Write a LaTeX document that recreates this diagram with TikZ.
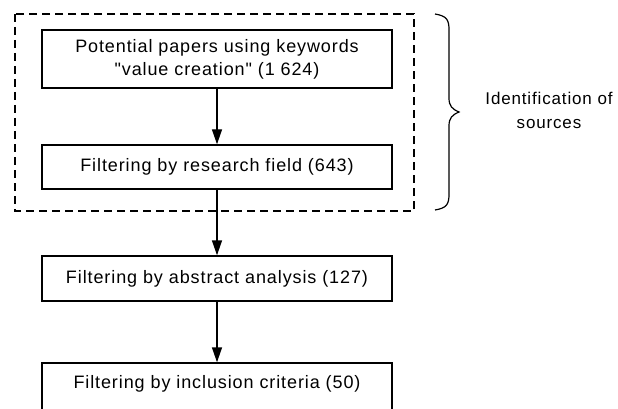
\documentclass[tikz,border=0pt]{standalone}
\usepackage{fontspec}
\newfontfamily\lib{Liberation Sans}[LetterSpace=5]
\usetikzlibrary{arrows.meta}
\begin{document}
\begin{tikzpicture}[x=1pt,y=-1pt,
  txt/.style={font=\lib\fontsize{18}{23}\selectfont},
  stepbox/.style={draw, txt, line width=1.4pt, minimum width=350pt, align=center, inner sep=0pt},
  flow/.style={line width=1.4pt, -{Triangle[width=10pt,length=15pt]}}]
\useasboundingbox (0,0) rectangle (618,409);
\clip (0,0) rectangle (618,409);
\node[stepbox, minimum height=58pt] (b1) at (217,59) {Potential papers using keywords\\ "value creation" (1 624)};
\node[stepbox, minimum height=44pt] (b2) at (217,167) {Filtering by research field (643)};
\node[stepbox, minimum height=45pt] (b3) at (217,278.5) {Filtering by abstract analysis (127)};
\node[stepbox, minimum height=70pt] (b4) at (217,398) {};
\node[txt] (t4) at (217,384) {Filtering by inclusion criteria (50)};
\draw[dashed, line width=1.4pt, dash pattern=on 8pt off 5pt] (15,14) rectangle (414,211);
\draw[flow] (b1) -- (b2);
\draw[flow] (b2) -- (b3);
\draw[flow] (b3) -- (b4);
\draw[line width=1.2pt] (435,14) .. controls (447,16) and (449,20) .. (449,30) -- (449,98) .. controls (449,106) and (452,109) .. (459,112) .. controls (452,115) and (449,118) .. (449,126) -- (449,194) .. controls (449,204) and (447,208) .. (435,210);
\node[align=center, font=\lib\fontsize{17}{24}\selectfont] (lab) at (549,110) {Identification of\\sources};
\end{tikzpicture}
\end{document}
